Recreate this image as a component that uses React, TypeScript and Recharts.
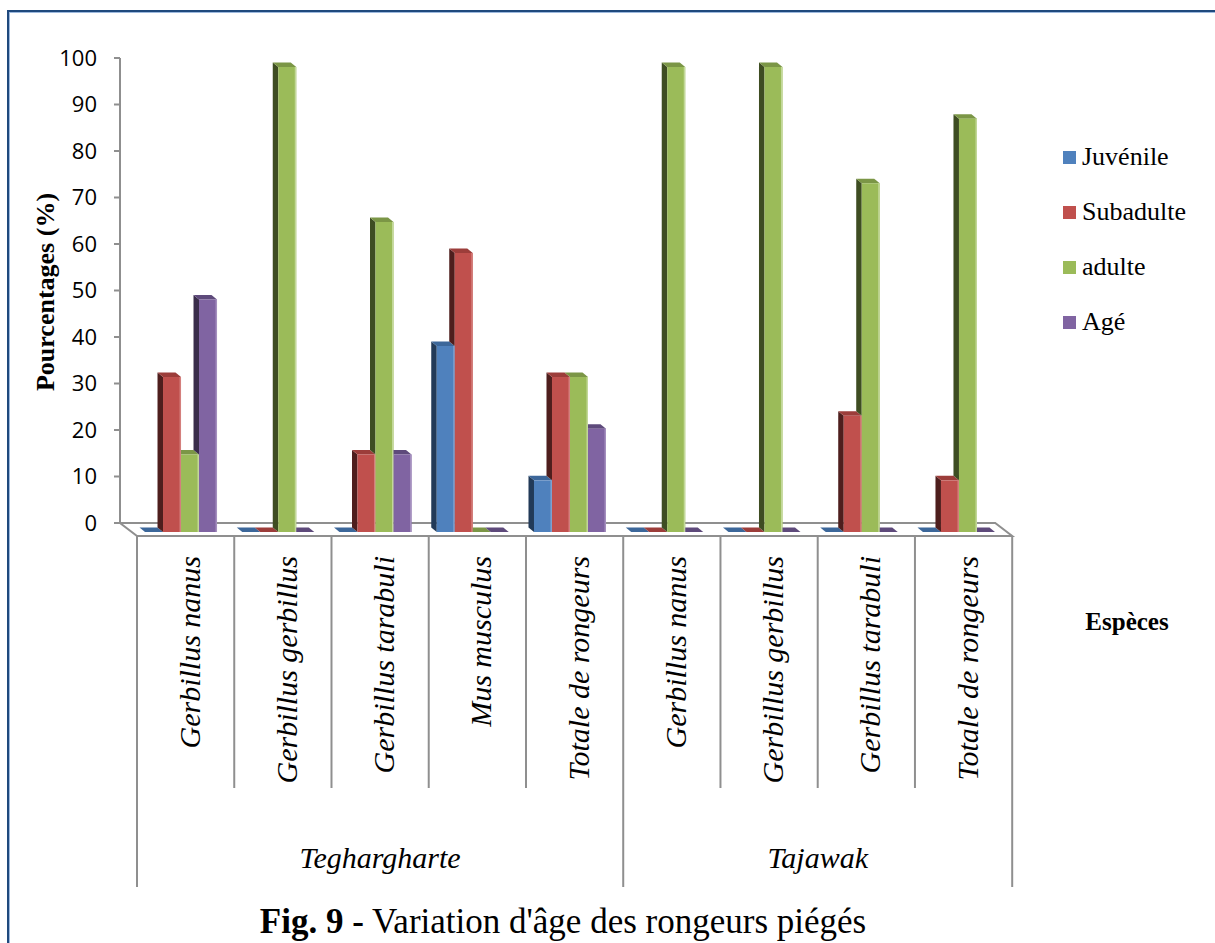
import React from 'react';
import { BarChart, Bar, XAxis, YAxis, Legend } from 'recharts';

const SPECIES = [
  'Gerbillus nanus',
  'Gerbillus gerbillus',
  'Gerbillus tarabuli',
  'Mus musculus',
  'Totale de rongeurs',
  'Gerbillus nanus',
  'Gerbillus gerbillus',
  'Gerbillus tarabuli',
  'Totale de rongeurs',
];
const STATIONS = ['Teghargharte', 'Tajawak'];
const STATION_SIZES = [5, 4];

const JUVENILE = [0, 0, 0, 40, 11.11, 0, 0, 0, 0];
const SUBADULTE = [33.33, 0, 16.67, 60, 33.33, 0, 0, 25, 11.11];
const ADULTE = [16.67, 100, 66.67, 0, 33.33, 100, 100, 75, 88.89];
const AGE = [50, 0, 16.67, 0, 22.22, 0, 0, 0, 0];

const Y_TICKS = [0, 10, 20, 30, 40, 50, 60, 70, 80, 90, 100];

const SERIES = [
  { key: 'Juvénile', values: JUVENILE, front: '#4F81BD', side: '#223A58', top: '#3C679A', edge: '#7FA3D0' },
  { key: 'Subadulte', values: SUBADULTE, front: '#C0504D', side: '#4E1E1D', top: '#9C3D3A', edge: '#D47F7D' },
  { key: 'adulte', values: ADULTE, front: '#9BBB59', side: '#3E4D22', top: '#7B9646', edge: '#C3D89A' },
  { key: 'Agé', values: AGE, front: '#8064A2', side: '#3A2D4B', top: '#5E4A7B', edge: '#A48FBE' },
];

const data = SPECIES.map((species, i) => {
  const row: Record<string, string | number> = { species };
  SERIES.forEach((s) => {
    row[s.key] = s.values[i];
  });
  return row;
});

// layout
const W = 1215;
const H = 943;
const PLOT_LEFT = 131.4;
const PLOT_RIGHT = 1006.6;
const PLOT_TOP = 67;
const PLOT_BOTTOM = 532;
const Y_AXIS_W = 60;
const X_AXIS_H = 30;
const BAND = (PLOT_RIGHT - PLOT_LEFT) / SPECIES.length;
const BACK = { dx: -11.4, dy: -9 }; // back wall of the 3d box
const FRONT = { dx: 5.6, dy: 4 }; // front edge of the floor
const DX = 5.5; // bar depth
const DY = 4.5;
const GRID = '#8F8F8F';
const SERIF = '"Liberation Serif", "Times New Roman", serif';

const toY = (v: number) => PLOT_BOTTOM - ((PLOT_BOTTOM - PLOT_TOP) * v) / 100;

function bar3d(idx: number) {
  return (props: any) => {
    const { x, y, width, height, payload } = props;
    const s = SERIES[idx];
    const val = Number(payload[s.key]);
    const prev = idx > 0 ? Number(payload[SERIES[idx - 1].key]) : 0;
    const left = x;
    const right = x + width;
    const top = y;
    const base = y + height;
    // neighbour on the left hides part of the side and top faces
    const hidden = prev > val;
    let side = null;
    if (val > 0 && !hidden) {
      const low = prev > 0 ? base - (prev / val) * height : base;
      side = (
        <polygon
          points={`${left},${top} ${left},${low} ${left - DX},${low - DY} ${left - DX},${top - DY}`}
          fill={s.side}
        />
      );
    }
    const lx = hidden ? left : left - DX;
    return (
      <g>
        {side}
        <polygon
          points={`${left},${top} ${right},${top} ${right - DX},${top - DY} ${lx},${top - DY}`}
          fill={s.top}
        />
        {height > 0 && <rect x={left} y={top} width={width} height={height} fill={s.front} />}
        {height > 0 && <rect x={right - 1.5} y={top} width={1.5} height={height} fill={s.edge} />}
      </g>
    );
  };
}

const YTick = (props: any) => {
  const { y, payload } = props;
  const ax = PLOT_LEFT + BACK.dx;
  const ty = y + BACK.dy;
  return (
    <g>
      <line x1={ax - 6} x2={ax} y1={ty} y2={ty} stroke={GRID} strokeWidth={2} />
      <text
        x={ax - 23}
        y={ty}
        dy="0.36em"
        textAnchor="end"
        fontSize={22}
        fontFamily='"Open Sans", "Liberation Sans", sans-serif'
        fill="#000"
      >
        {payload.value}
      </text>
    </g>
  );
};

const XTick = (props: any) => {
  const { x, payload } = props;
  const cx = x + FRONT.dx + 14;
  return (
    <text
      transform={`translate(${cx}, 556) rotate(-90)`}
      textAnchor="end"
      fontSize={30}
      fontStyle="italic"
      fontFamily={SERIF}
      fill="#000"
    >
      {payload.value}
    </text>
  );
};

const LegendList = () => (
  <div>
    {SERIES.map((s) => (
      <div key={s.key} style={{ display: 'flex', alignItems: 'center', height: 55 }}>
        <span style={{ width: 13, height: 13, background: s.front, marginRight: 6 }} />
        <span style={{ fontFamily: SERIF, fontSize: 26, color: '#000' }}>{s.key}</span>
      </div>
    ))}
  </div>
);

function Frame() {
  const backY = PLOT_BOTTOM + BACK.dy;
  const frontY = PLOT_BOTTOM + FRONT.dy;
  const bl = PLOT_LEFT + BACK.dx;
  const br = PLOT_RIGHT + BACK.dx;
  const fl = PLOT_LEFT + FRONT.dx;
  const fr = PLOT_RIGHT + FRONT.dx;
  const boundaries: number[] = [0];
  STATION_SIZES.forEach((n) => boundaries.push(boundaries[boundaries.length - 1] + n));
  return (
    <svg width={W} height={H} style={{ position: 'absolute', left: 0, top: 0 }}>
      {/* floor */}
      <polygon
        points={`${bl},${backY} ${br},${backY} ${fr},${frontY} ${fl},${frontY}`}
        fill="#fff"
        stroke={GRID}
        strokeWidth={2}
      />
      {/* value axis on the back wall */}
      <line x1={bl} x2={bl} y1={toY(100) + BACK.dy} y2={backY} stroke={GRID} strokeWidth={2} />
      {/* category table */}
      {SPECIES.map((_, i) => i)
        .concat([SPECIES.length])
        .map((i) => {
          const xx = PLOT_LEFT + i * BAND + FRONT.dx;
          const outer = boundaries.includes(i);
          return (
            <line key={i} x1={xx} x2={xx} y1={frontY} y2={outer ? 887 : 788} stroke={GRID} strokeWidth={2} />
          );
        })}
      {STATIONS.map((name, g) => {
        const a = PLOT_LEFT + boundaries[g] * BAND + FRONT.dx;
        const b = PLOT_LEFT + boundaries[g + 1] * BAND + FRONT.dx;
        return (
          <text
            key={name}
            x={(a + b) / 2}
            y={868}
            textAnchor="middle"
            fontSize={30}
            fontStyle="italic"
            fontFamily={SERIF}
            fill="#000"
          >
            {name}
          </text>
        );
      })}
      <text
        transform="translate(54, 292) rotate(-90)"
        textAnchor="middle"
        fontSize={26}
        fontWeight="bold"
        fontFamily={SERIF}
        fill="#000"
      >
        Pourcentages (%)
      </text>
      <text x={1127} y={630} textAnchor="middle" fontSize={25} fontWeight="bold" fontFamily={SERIF} fill="#000">
        Espèces
      </text>
    </svg>
  );
}

export default function App() {
  return (
    <div style={{ position: 'fixed', left: 0, top: 0, width: W, height: H, overflow: 'hidden', background: '#fff' }}>
      <div
        style={{
          position: 'absolute',
          left: 7,
          top: 10,
          width: W + 20,
          height: H + 20,
          border: '2px solid #1F497D',
          boxShadow: 'inset 1px 1px 0 #9DB9DE',
        }}
      />
      <Frame />
      <div style={{ position: 'absolute', left: 0, top: 0 }}>
        <BarChart
          width={W}
          height={H}
          data={data}
          barCategoryGap="14%"
          barGap={0}
          margin={{
            top: PLOT_TOP,
            right: W - PLOT_RIGHT,
            bottom: H - PLOT_BOTTOM - X_AXIS_H,
            left: PLOT_LEFT - Y_AXIS_W,
          }}
        >
          <XAxis dataKey="species" height={X_AXIS_H} axisLine={false} tickLine={false} interval={0} tick={XTick} />
          <YAxis
            domain={[0, 100]}
            ticks={Y_TICKS}
            width={Y_AXIS_W}
            axisLine={false}
            tickLine={false}
            interval={0}
            tick={YTick}
          />
          <Legend
            layout="vertical"
            align="center"
            verticalAlign="middle"
            content={LegendList}
            wrapperStyle={{ left: 1063, top: 129.5, width: 150 }}
          />
          {SERIES.map((s, i) => (
            <Bar key={s.key} dataKey={s.key} name={s.key} fill={s.front} shape={bar3d(i)} isAnimationActive={false} />
          ))}
        </BarChart>
      </div>
      <div
        style={{
          position: 'absolute',
          left: 0,
          top: 902,
          width: 1126,
          textAlign: 'center',
          fontFamily: SERIF,
          fontSize: 35,
          color: '#000',
          whiteSpace: 'nowrap',
        }}
      >
        <b>Fig. 9 -</b> Variation d'âge des rongeurs piégés
      </div>
    </div>
  );
}
